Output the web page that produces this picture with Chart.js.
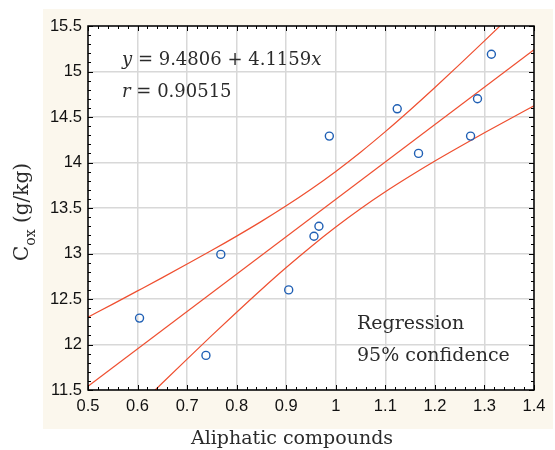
<!DOCTYPE html>
<html><head><meta charset="utf-8">
<script src="https://cdn.jsdelivr.net/npm/chart.js@4.4.0/dist/chart.umd.min.js"></script>
<style>html,body{margin:0;padding:0;background:#fff}canvas{display:block}</style>
</head><body>
<canvas id="c" width="555" height="450"></canvas>
<script>
// ---- data ----
const xValues = [0.604, 0.738, 0.768, 0.905, 0.956, 0.966, 0.987, 1.124, 1.167, 1.272, 1.286, 1.314];
const yValues = [12.29, 11.88, 12.99, 12.60, 13.19, 13.30, 14.29, 14.59, 14.10, 14.29, 14.70, 15.19];
const lineX = [0.5, 1.4];
const lineY = [11.54, 15.24];
const bandX = [0.5, 0.55, 0.6, 0.65, 0.7, 0.75, 0.8, 0.85, 0.9, 0.95, 1.0, 1.05, 1.1, 1.15, 1.2, 1.25, 1.3, 1.35, 1.4];
const upperY = [12.301, 12.444, 12.589, 12.735, 12.884, 13.035, 13.191, 13.353, 13.524, 13.706, 13.902, 14.113, 14.339, 14.577, 14.824, 15.078, 15.336, 15.598, 15.863];
const lowerY = [10.777, 11.044, 11.312, 11.577, 11.840, 12.100, 12.355, 12.605, 12.846, 13.075, 13.291, 13.492, 13.678, 13.851, 14.016, 14.173, 14.326, 14.476, 14.623];
const xTicks = [0.5, 0.6, 0.7, 0.8, 0.9, 1, 1.1, 1.2, 1.3, 1.4];
const yTicks = [11.5, 12, 12.5, 13, 13.5, 14, 14.5, 15, 15.5];
const xTitle = 'Aliphatic compounds';
const yTitleMain = 'C';
const yTitleSub = 'ox';
const yTitleRest = ' (g/kg)';
const eqParts = [['y', true], [' = 9.4806 + 4.1159', false], ['x', true]];
const rParts = [['r', true], [' = 0.90515', false]];
const legendLines = ['Regression', '95% confidence'];

const toPts = (xs, ys) => xs.map((x, i) => ({x: x, y: ys[i]}));
const RED = '#ef4f30';
const SERIF = '"DejaVu Serif", serif';

const bgPlugin = {
  id: 'bg',
  beforeDraw(chart) {
    const ctx = chart.ctx, a = chart.chartArea;
    ctx.save();
    ctx.fillStyle = '#ffffff';
    ctx.fillRect(0, 0, chart.width, chart.height);
    ctx.fillStyle = '#fbf7ed';
    ctx.fillRect(43, 9, 510, 420);
    ctx.fillStyle = '#ffffff';
    ctx.fillRect(a.left, a.top, a.right - a.left, a.bottom - a.top);
    ctx.restore();
  }
};

function drawParts(ctx, parts, x, y, size, color) {
  let cx = x;
  parts.forEach(([t, it]) => {
    ctx.font = (it ? 'italic ' : '') + size + 'px ' + SERIF;
    ctx.fillStyle = color;
    ctx.fillText(t, cx, y);
    cx += ctx.measureText(t).width;
  });
}

const framePlugin = {
  id: 'frame',
  afterDraw(chart) {
    const ctx = chart.ctx, a = chart.chartArea;
    const xs = chart.scales.x, ys = chart.scales.y;
    ctx.save();
    ctx.strokeStyle = '#000';
    ctx.lineWidth = 1.5;
    ctx.strokeRect(a.left, a.top, a.right - a.left, a.bottom - a.top);
    ctx.lineWidth = 1;
    ctx.beginPath();
    for (let i = 0; i <= 45; i++) {
      const px = Math.round(xs.getPixelForValue(0.5 + i * 0.02)) + 0.5;
      const L = (i % 5 === 0) ? 5 : 3;
      ctx.moveTo(px, a.bottom); ctx.lineTo(px, a.bottom - L);
      ctx.moveTo(px, a.top); ctx.lineTo(px, a.top + L);
    }
    for (let i = 0; i <= 40; i++) {
      const py = Math.round(ys.getPixelForValue(11.5 + i * 0.1)) + 0.5;
      const L = (i % 5 === 0) ? 5 : 3;
      ctx.moveTo(a.left, py); ctx.lineTo(a.left + L, py);
      ctx.moveTo(a.right, py); ctx.lineTo(a.right - L, py);
    }
    ctx.stroke();

    // annotations
    ctx.textBaseline = 'alphabetic';
    ctx.textAlign = 'left';
    drawParts(ctx, eqParts, 122, 65, 18, '#2b2b2b');
    drawParts(ctx, rParts, 122, 97, 18, '#2b2b2b');
    ctx.font = '19px ' + SERIF;
    ctx.fillStyle = '#2b2b2b';
    ctx.fillText(legendLines[0], 357, 329);
    ctx.fillText(legendLines[1], 357, 361);

    // x title
    ctx.font = '19px ' + SERIF;
    ctx.textAlign = 'center';
    ctx.fillText(xTitle, 292, 444);

    // y title (rotated, with subscript)
    ctx.translate(28, 212);
    ctx.rotate(-Math.PI / 2);
    ctx.textAlign = 'left';
    ctx.font = '20px ' + SERIF;
    const w1 = ctx.measureText(yTitleMain).width;
    const w3 = ctx.measureText(yTitleRest).width;
    ctx.font = '14px ' + SERIF;
    const w2 = ctx.measureText(yTitleSub).width;
    let sx = -(w1 + w2 + w3) / 2;
    ctx.font = '20px ' + SERIF;
    ctx.fillText(yTitleMain, sx, 0);
    sx += w1;
    ctx.font = '14px ' + SERIF;
    ctx.fillText(yTitleSub, sx, 7);
    sx += w2;
    ctx.font = '20px ' + SERIF;
    ctx.fillText(yTitleRest, sx, 0);
    ctx.restore();
  }
};

new Chart(document.getElementById('c'), {
  type: 'scatter',
  data: {
    datasets: [
      {
        label: 'Data', data: toPts(xValues, yValues), order: 0,
        pointRadius: 4, pointBorderWidth: 1.4, pointBorderColor: '#1f5fb4',
        pointBackgroundColor: 'rgba(255,255,255,0)', showLine: false
      },
      {
        label: 'Regression', data: toPts(lineX, lineY), order: 1, showLine: true,
        borderColor: RED, borderWidth: 1.2, pointRadius: 0, clip: 0
      },
      {
        label: 'Upper', data: toPts(bandX, upperY), order: 2, showLine: true,
        borderColor: RED, borderWidth: 1.2, pointRadius: 0, clip: 0,
        cubicInterpolationMode: 'monotone'
      },
      {
        label: 'Lower', data: toPts(bandX, lowerY), order: 3, showLine: true,
        borderColor: RED, borderWidth: 1.2, pointRadius: 0, clip: 0,
        cubicInterpolationMode: 'monotone'
      }
    ]
  },
  options: {
    responsive: false, animation: false, devicePixelRatio: 1,
    layout: {padding: {left: 0, top: 26, right: 21, bottom: 0}},
    plugins: {legend: {display: false}, tooltip: {enabled: false}},
    scales: {
      x: {
        type: 'linear', min: 0.5, max: 1.4,
        afterFit: s => { s.height = 60; },
        afterBuildTicks: s => { s.ticks = xTicks.map(v => ({value: v})); },
        grid: {color: '#d8d8d8', lineWidth: 1.5, drawTicks: false},
        border: {display: false},
        ticks: {
          padding: 7, maxRotation: 0, autoSkip: false, color: '#111',
          font: {family: '"Liberation Sans", Arial, sans-serif', size: 16.5},
          callback: v => String(v)
        }
      },
      y: {
        type: 'linear', min: 11.5, max: 15.5,
        afterFit: s => { s.width = 88; },
        afterBuildTicks: s => { s.ticks = yTicks.map(v => ({value: v})); },
        grid: {color: '#d8d8d8', lineWidth: 1.5, drawTicks: false},
        border: {display: false},
        ticks: {
          padding: 6, autoSkip: false, color: '#111',
          font: {family: '"Liberation Sans", Arial, sans-serif', size: 16.5},
          callback: v => String(v)
        }
      }
    }
  },
  plugins: [bgPlugin, framePlugin]
});
</script>
</body></html>
